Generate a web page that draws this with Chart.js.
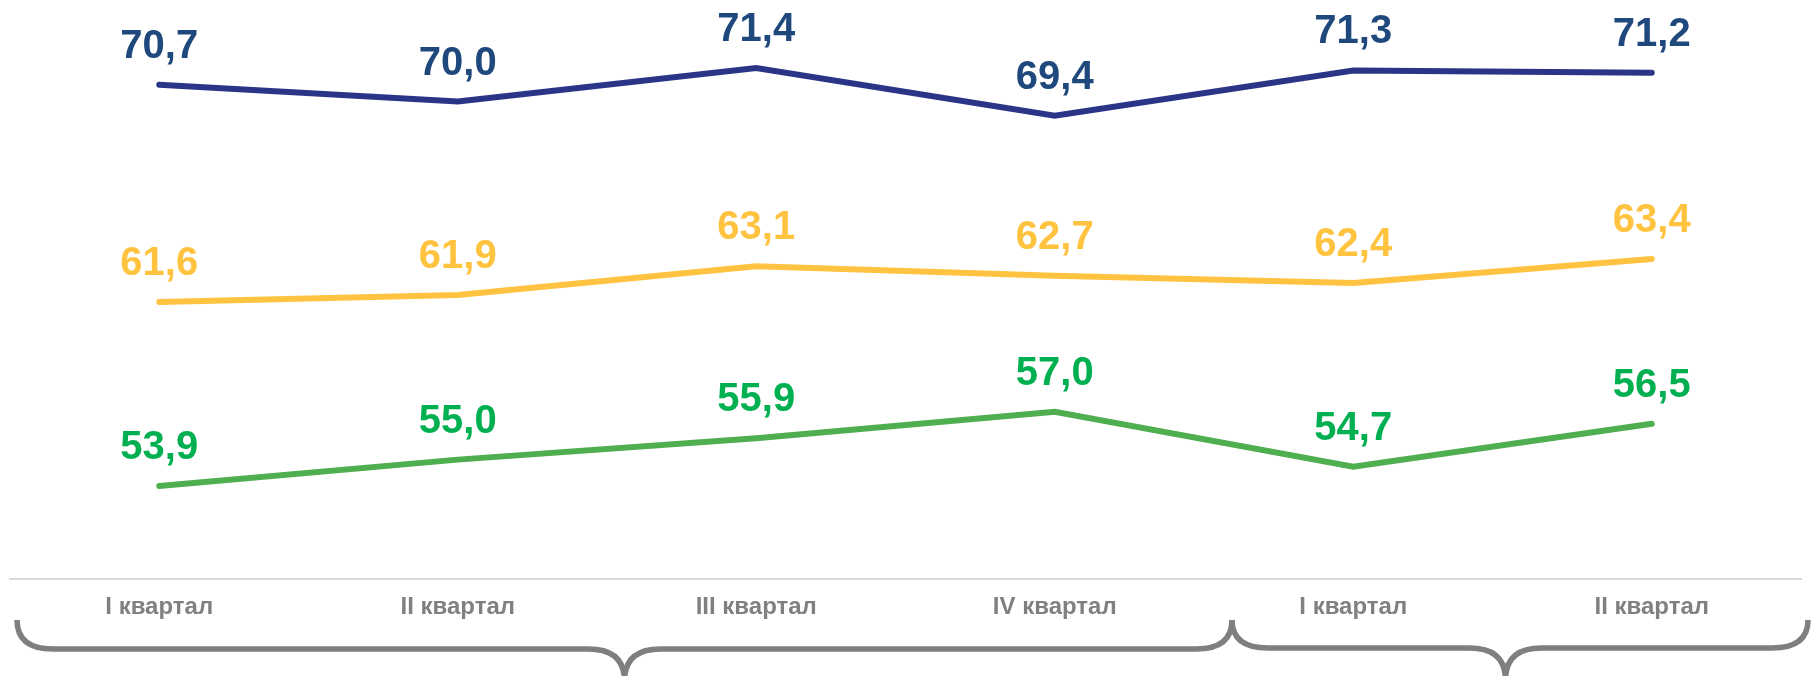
<!DOCTYPE html>
<html>
<head>
<meta charset="utf-8">
<script src="https://cdn.jsdelivr.net/npm/chart.js@4"></script>
<style>
  html, body { margin: 0; padding: 0; background: #fff; }
  #wrap { width: 1811px; height: 676px; position: relative; }
</style>
</head>
<body>
<div id="wrap"><canvas id="chart"></canvas></div>
<script>
const quarters = ['I квартал', 'II квартал', 'III квартал', 'IV квартал', 'I квартал', 'II квартал'];
const seriesTop = [70.7, 70.0, 71.4, 69.4, 71.3, 71.2];
const seriesMid = [61.6, 61.9, 63.1, 62.7, 62.4, 63.4];
const seriesLow = [53.9, 55.0, 55.9, 57.0, 54.7, 56.5];

const FONT = '"Liberation Sans", Arial, sans-serif';

// numbers above each point, comma as decimal separator
const valueLabels = {
  id: 'valueLabels',
  afterDatasetsDraw(chart) {
    const ctx = chart.ctx;
    ctx.save();
    ctx.font = 'bold 40px ' + FONT;
    ctx.textAlign = 'center';
    ctx.textBaseline = 'alphabetic';
    chart.data.datasets.forEach((ds, i) => {
      const meta = chart.getDatasetMeta(i);
      ctx.fillStyle = ds.labelColor;
      meta.data.forEach((pt, j) => {
        ctx.fillText(ds.data[j].toFixed(1).replace('.', ','), pt.x, pt.y - 27);
      });
    });
    ctx.restore();
  }
};

// curly braces under the quarter labels (two years)
function drawBrace(ctx, x0, x1, mid, yTop, yLine, rx, ry) {
  ctx.beginPath();
  ctx.moveTo(x0, yTop);
  ctx.quadraticCurveTo(x0, yLine, x0 + rx, yLine);
  ctx.lineTo(mid - rx, yLine);
  ctx.quadraticCurveTo(mid, yLine, mid, yLine + ry + 4);
  ctx.moveTo(mid, yLine + ry + 4);
  ctx.quadraticCurveTo(mid, yLine, mid + rx, yLine);
  ctx.lineTo(x1 - rx, yLine);
  ctx.quadraticCurveTo(x1, yLine, x1, yTop);
  ctx.stroke();
}

const braces = {
  id: 'braces',
  afterDraw(chart) {
    const x = chart.scales.x;
    const ctx = chart.ctx;
    const a = x.getPixelForValue(-0.5) + 7;
    const b = x.getPixelForValue(3.5) + 28;
    const c = x.getPixelForValue(5.5) + 7;
    ctx.save();
    ctx.strokeStyle = '#7F7F7F';
    ctx.lineWidth = 5.5;
    ctx.lineCap = 'butt';
    ctx.lineJoin = 'round';
    drawBrace(ctx, a, b, (a + b) / 2, 620, 649, 36, 28);
    drawBrace(ctx, b, c, x.getPixelForValue(4.5) + 3, 620, 648, 36, 28);
    ctx.restore();
  }
};

new Chart(document.getElementById('chart'), {
  type: 'line',
  data: {
    labels: quarters,
    datasets: [
      { data: seriesTop, borderColor: '#2B3587', labelColor: '#1F497D' },
      { data: seriesMid, borderColor: '#FFC341', labelColor: '#FFC340' },
      { data: seriesLow, borderColor: '#4FAE4F', labelColor: '#00B050' }
    ].map(d => Object.assign(d, {
      borderWidth: 6,
      pointRadius: 0,
      tension: 0,
      fill: false,
      borderCapStyle: 'round',
      borderJoinStyle: 'miter'
    }))
  },
  options: {
    responsive: true,
    maintainAspectRatio: false,
    animation: false,
    layout: { padding: { top: 6, left: 10, right: 10, bottom: 0 } },
    plugins: { legend: { display: false }, tooltip: { enabled: false } },
    scales: {
      x: {
        offset: true,
        grid: { display: false, drawTicks: false },
        border: { display: true, color: '#D9D9D9', width: 2 },
        ticks: {
          color: '#808080',
          font: { family: FONT, size: 24, weight: 'bold' },
          padding: 14,
          maxRotation: 0,
          autoSkip: false
        },
        afterFit(scale) { scale.height = 97; }
      },
      y: { display: false, min: 50, max: 74 }
    }
  },
  plugins: [valueLabels, braces]
});
</script>
</body>
</html>
